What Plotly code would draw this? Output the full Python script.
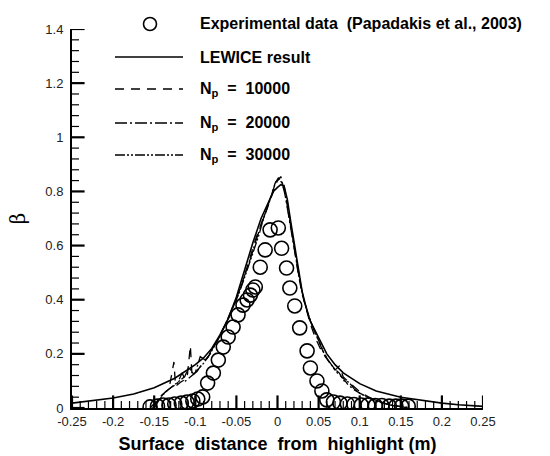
import plotly.graph_objects as go

# ---------------- data ----------------
exp_x = [-0.155, -0.146, -0.139, -0.132, -0.125, -0.117, -0.110, -0.103, -0.097, -0.091,
         -0.085, -0.078, -0.072, -0.066, -0.060, -0.054, -0.048, -0.042, -0.037, -0.033,
         -0.030, -0.027, -0.021, -0.015, -0.009,
         0.001, 0.005, 0.011, 0.015, 0.021, 0.027, 0.036, 0.040, 0.048, 0.054,
         0.060, 0.068, 0.076, 0.085, 0.093, 0.102, 0.110, 0.119, 0.127, 0.136, 0.144, 0.151, 0.159]
exp_y = [0.004, 0.007, 0.011, 0.011, 0.015, 0.018, 0.022, 0.026, 0.033, 0.041,
         0.092, 0.129, 0.177, 0.225, 0.262, 0.299, 0.344, 0.380, 0.399, 0.417,
         0.436, 0.447, 0.520, 0.584, 0.658,
         0.665, 0.590, 0.517, 0.443, 0.377, 0.296, 0.211, 0.148, 0.100, 0.063,
         0.030, 0.022, 0.018, 0.015, 0.013, 0.011, 0.011, 0.009, 0.009, 0.007, 0.007, 0.007, 0.007]

lewice_x = [-0.25, -0.2, -0.175, -0.15, -0.125, -0.1, -0.09, -0.08, -0.07, -0.06, -0.05,
            -0.04, -0.03, -0.02, -0.01, -0.005, 0.0, 0.004, 0.008, 0.012, 0.016, 0.02,
            0.025, 0.03, 0.035, 0.04, 0.05, 0.06, 0.07, 0.08, 0.1, 0.12, 0.15, 0.18,
            0.2, 0.22, 0.25]
lewice_y = [0.018, 0.037, 0.052, 0.075, 0.11, 0.16, 0.185, 0.22, 0.27, 0.33, 0.41,
            0.51, 0.61, 0.70, 0.77, 0.80, 0.815, 0.825, 0.82, 0.77, 0.69, 0.62,
            0.53, 0.43, 0.37, 0.32, 0.26, 0.20, 0.16, 0.13, 0.09, 0.063, 0.04, 0.026,
            0.018, 0.012, 0.006]

np10k_x = [-0.155, -0.148, -0.14, -0.132, -0.126, -0.124, -0.118, -0.11, -0.106, -0.104,
           -0.098, -0.09, -0.082, -0.074, -0.066, -0.058, -0.05, -0.042, -0.034, -0.027,
           -0.02, -0.014, -0.009, -0.004, 0.0, 0.004, 0.008, 0.012, 0.016, 0.02, 0.025,
           0.03, 0.035, 0.04, 0.046, 0.052, 0.058, 0.064, 0.07, 0.075, 0.08, 0.087,
           0.094, 0.1, 0.11, 0.12, 0.13, 0.14, 0.15, 0.16]
np10k_y = [0.0, 0.025, 0.05, 0.07, 0.17, 0.08, 0.095, 0.11, 0.23, 0.12,
           0.135, 0.17, 0.2, 0.245, 0.29, 0.34, 0.4, 0.47, 0.55, 0.62,
           0.68, 0.73, 0.77, 0.81, 0.84, 0.855, 0.82, 0.76, 0.68, 0.6, 0.5,
           0.42, 0.36, 0.31, 0.26, 0.22, 0.19, 0.165, 0.14, 0.155, 0.115, 0.095,
           0.075, 0.06, 0.042, 0.028, 0.018, 0.01, 0.005, 0.002]

np20k_x = [-0.152, -0.145, -0.138, -0.13, -0.122, -0.116, -0.112, -0.106, -0.1, -0.094,
           -0.087, -0.08, -0.072, -0.064, -0.056, -0.048, -0.04, -0.032, -0.025, -0.018,
           -0.012, -0.007, -0.003, 0.001, 0.005, 0.009, 0.013, 0.017, 0.022, 0.027,
           0.032, 0.038, 0.044, 0.05, 0.056, 0.062, 0.068, 0.074, 0.08, 0.086, 0.092,
           0.1, 0.11, 0.12, 0.13, 0.14, 0.15, 0.16]
np20k_y = [0.0, 0.03, 0.055, 0.075, 0.09, 0.13, 0.1, 0.115, 0.13, 0.19,
           0.175, 0.215, 0.255, 0.305, 0.36, 0.42, 0.49, 0.56, 0.63, 0.69,
           0.745, 0.79, 0.83, 0.85, 0.84, 0.79, 0.72, 0.65, 0.56, 0.47,
           0.4, 0.34, 0.29, 0.245, 0.205, 0.175, 0.15, 0.125, 0.11, 0.085, 0.07,
           0.055, 0.04, 0.027, 0.017, 0.01, 0.005, 0.002]

np30k_x = [-0.15, -0.143, -0.136, -0.128, -0.12, -0.113, -0.108, -0.102, -0.096, -0.09,
           -0.084, -0.077, -0.07, -0.062, -0.054, -0.046, -0.038, -0.03, -0.023, -0.017,
           -0.011, -0.006, -0.002, 0.002, 0.006, 0.01, 0.014, 0.018, 0.023, 0.028,
           0.033, 0.039, 0.045, 0.051, 0.057, 0.063, 0.069, 0.075, 0.081, 0.087, 0.094,
           0.1, 0.11, 0.12, 0.13, 0.14, 0.15, 0.158]
np30k_y = [0.0, 0.035, 0.06, 0.08, 0.1, 0.115, 0.15, 0.125, 0.145, 0.165,
           0.19, 0.225, 0.265, 0.315, 0.37, 0.43, 0.5, 0.57, 0.635, 0.7,
           0.75, 0.8, 0.835, 0.845, 0.83, 0.78, 0.71, 0.64, 0.55, 0.46,
           0.39, 0.33, 0.285, 0.24, 0.2, 0.17, 0.145, 0.13, 0.1, 0.095, 0.068,
           0.055, 0.038, 0.025, 0.016, 0.009, 0.004, 0.001]

xtick_vals = [-0.25, -0.2, -0.15, -0.1, -0.05, 0.0, 0.05, 0.1, 0.15, 0.2, 0.25]
xtick_text = ["-0.25", "-0.2", "-0.15", "-0.1", "-0.05", "0", "0.05", "0.1", "0.15", "0.2", "0.25"]
ytick_vals = [0.0, 0.2, 0.4, 0.6, 0.8, 1.0, 1.2, 1.4]
ytick_text = ["0", "0.2", "0.4", "0.6", "0.8", "1", "1.2", "1.4"]
x_minor_vals = [round(-0.25 + 0.01 * i, 2) for i in range(51)]
y_minor_vals = [round(0.04 * i, 2) for i in range(36)]

legend_labels = ["Experimental data  (Papadakis et al., 2003)",
                 "LEWICE result",
                 "N<sub>p</sub>  =  10000",
                 "N<sub>p</sub>  =  20000",
                 "N<sub>p</sub>  =  30000"]

x_title = "Surface\u00a0 distance\u00a0 from\u00a0 highlight (m)"
y_title = "β"

# ---------------- styles ----------------
FONT = "Liberation Sans, Arial, sans-serif"
dash10k = "9px,7px"
dash20k = "12px,3px,2px,3px"
dash30k = "10px,2px,2px,2px,2px,2px"

fig = go.Figure()

# inside tick marks: axis-centred line markers, clipped to the plot area so only the inner half shows
x_major = [v for v in x_minor_vals if any(abs(v - t) < 1e-9 for t in xtick_vals)]
x_minor = [v for v in x_minor_vals if not any(abs(v - t) < 1e-9 for t in xtick_vals)]
y_major = [v for v in y_minor_vals if any(abs(v - t) < 1e-9 for t in ytick_vals)]
y_minor = [v for v in y_minor_vals if not any(abs(v - t) < 1e-9 for t in ytick_vals)]
for xs, sz, wd in [(x_major, 18, 2.2), (x_minor, 10, 1.2)]:
    fig.add_trace(go.Scatter(x=xs, y=[0] * len(xs), mode="markers", cliponaxis=True,
                             hoverinfo="skip",
                             marker=dict(symbol="line-ns", size=sz, color="black",
                                         line=dict(width=wd, color="black"))))
for ys, sz, wd in [(y_major, 18, 2.2), (y_minor, 10, 1.2)]:
    fig.add_trace(go.Scatter(x=[-0.25] * len(ys), y=ys, mode="markers", cliponaxis=True,
                             hoverinfo="skip",
                             marker=dict(symbol="line-ew", size=sz, color="black",
                                         line=dict(width=wd, color="black"))))

fig.add_trace(go.Scatter(x=lewice_x, y=lewice_y, mode="lines",
                         line=dict(color="black", width=1.6)))
fig.add_trace(go.Scatter(x=np10k_x, y=np10k_y, mode="lines",
                         line=dict(color="black", width=1.3, dash=dash10k)))
fig.add_trace(go.Scatter(x=np20k_x, y=np20k_y, mode="lines",
                         line=dict(color="black", width=1.3, dash=dash20k)))
fig.add_trace(go.Scatter(x=np30k_x, y=np30k_y, mode="lines",
                         line=dict(color="black", width=1.3, dash=dash30k)))
fig.add_trace(go.Scatter(x=exp_x, y=exp_y, mode="markers",
                         marker=dict(symbol="circle-open", size=14, color="black",
                                     line=dict(width=1.6, color="black"))))

shapes = []
annotations = []

# ---------------- manual legend ----------------
W, H = 411.0, 379.0
L, T = 72.0, 29.0
def px2paper(px, py):
    return (px - L) / W, (408.0 - py) / H

rows_py = [24, 57, 89, 123, 155]
dashes = [None, "solid", dash10k, dash20k, dash30k]
for i, (py, lab) in enumerate(zip(rows_py, legend_labels)):
    x0, yy = px2paper(115, py)
    x1, _ = px2paper(183, py)
    xt, _ = px2paper(198, py)
    if i == 0:
        xc, _ = px2paper(150, py)
        shapes.append(dict(type="circle", xref="paper", yref="paper",
                           xsizemode="pixel", ysizemode="pixel",
                           xanchor=xc, yanchor=yy, x0=-6.5, x1=6.5, y0=-6.5, y1=6.5,
                           line=dict(color="black", width=1.6)))
    else:
        shapes.append(dict(type="line", xref="paper", yref="paper",
                           x0=x0, x1=x1, y0=yy, y1=yy,
                           line=dict(color="black", width=1.6 if i == 1 else 1.3,
                                     dash=dashes[i])))
    annotations.append(dict(xref="paper", yref="paper", x=xt, y=yy,
                            xanchor="left", yanchor="middle", showarrow=False,
                            text="<b>" + lab + "</b>",
                            font=dict(family=FONT, size=16, color="black")))

fig.update_layout(
    width=550, height=456,
    margin=dict(l=72, r=67, t=29, b=48, autoexpand=False),
    paper_bgcolor="white", plot_bgcolor="white",
    showlegend=False,
    shapes=shapes, annotations=annotations,
    font=dict(family=FONT, color="black"),
    xaxis=dict(
        automargin=False,
        range=[-0.25, 0.25], showgrid=False, zeroline=False,
        showline=True, linecolor="black", linewidth=2,
        ticks="", tickmode="array", tickvals=xtick_vals, ticktext=xtick_text,
        tickfont=dict(family=FONT, size=13, color="#222"),
        title=dict(text="<b>" + x_title + "</b>", font=dict(family=FONT, size=18), standoff=10),
    ),
    yaxis=dict(
        automargin=False,
        range=[0, 1.4], showgrid=False, zeroline=False,
        showline=True, linecolor="black", linewidth=2,
        ticks="", tickmode="array", tickvals=ytick_vals, ticktext=ytick_text,
        tickfont=dict(family=FONT, size=13, color="#222"),
        ticklabelstandoff=4,
        title=dict(text=y_title, font=dict(family="DejaVu Serif, serif", size=20), standoff=14),
    ),
)

fig.write_html("out.html", config={"displayModeBar": False},
               post_script="document.body.style.margin='0';document.body.style.padding='0';")
